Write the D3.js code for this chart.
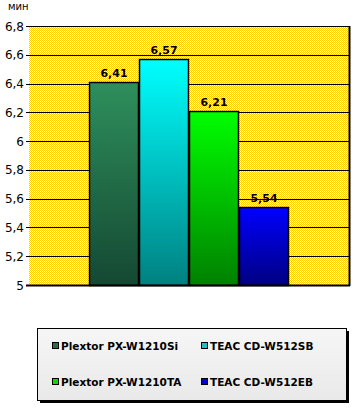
<!DOCTYPE html>
<html><head><meta charset="utf-8">
<script src="https://cdn.jsdelivr.net/npm/d3@7"></script>
<style>body{margin:0;background:#fff}svg{display:block}</style>
</head><body><svg id="c" width="353" height="408"></svg>
<script>
const categories = ["Plextor PX-W1210Si","TEAC CD-W512SB","Plextor PX-W1210TA","TEAC CD-W512EB"];
const values = [6.41, 6.57, 6.21, 5.54];
const labels = ["6,41","6,57","6,21","5,54"];
const yTicks = [5,5.2,5.4,5.6,5.8,6,6.2,6.4,6.6,6.8];
const yTickLabels = ["5","5,2","5,4","5,6","5,8","6","6,2","6,4","6,6","6,8"];
const topColors = ["#2e8f5c","#00ffff","#00ff00","#0000ff"];
const bottomColors = ["#144832","#008080","#008000","#000080"];
const swatchColors = ["#2e6b4c","#20c0c0","#00e000","#0000d0"];
const unit = "мин";

const svg = d3.select("#c");
const defs = svg.append("defs");
const pat = defs.append("pattern").attr("id","chk").attr("width",2).attr("height",2).attr("patternUnits","userSpaceOnUse");
pat.append("rect").attr("width",2).attr("height",2).attr("fill","#fff").attr("shape-rendering","crispEdges");
pat.append("rect").attr("x",0).attr("y",0).attr("width",1).attr("height",1).attr("fill","#ffcc00").attr("shape-rendering","crispEdges");
pat.append("rect").attr("x",1).attr("y",1).attr("width",1).attr("height",1).attr("fill","#ffcc00").attr("shape-rendering","crispEdges");
categories.forEach((c,i)=>{
  const g = defs.append("linearGradient").attr("id","g"+i).attr("x1",0).attr("y1",0).attr("x2",0).attr("y2",1);
  g.append("stop").attr("offset","0%").attr("stop-color",topColors[i]);
  g.append("stop").attr("offset","100%").attr("stop-color",bottomColors[i]);
});
const lg = defs.append("linearGradient").attr("id","lg").attr("x1",0).attr("y1",0).attr("x2",0).attr("y2",1);
lg.append("stop").attr("offset","0%").attr("stop-color","#f6f6f6");
lg.append("stop").attr("offset","100%").attr("stop-color","#e9e9e9");

const L=29, R=349, T=26, B=285;
const y = d3.scaleLinear().domain([5,6.8]).range([B,T]);
const x = d3.scaleBand().domain(categories).range([L+60,R-60]).padding(0);

svg.append("rect").attr("x",L).attr("y",T).attr("width",R-L).attr("height",B-T).attr("fill","url(#chk)").attr("shape-rendering","crispEdges");

svg.append("g").selectAll("line").data(yTicks).join("line")
  .attr("x1",L-3).attr("x2",R).attr("y1",d=>Math.round(y(d))+0.5).attr("y2",d=>Math.round(y(d))+0.5)
  .attr("stroke","#000").attr("stroke-width",1);
svg.append("line").attr("x1",R+0.5).attr("x2",R+0.5).attr("y1",T).attr("y2",B+1).attr("stroke","#000").attr("stroke-width",2);

svg.append("g").selectAll("text").data(yTicks).join("text")
  .attr("x",24).attr("y",d=>y(d)+4.5).attr("text-anchor","end")
  .attr("font-family","DejaVu Sans").attr("font-size",12).attr("fill","#000")
  .text((d,i)=>yTickLabels[i]);
svg.append("text").attr("x",8).attr("y",10).attr("font-family","DejaVu Sans").attr("font-size",10).text(unit);

svg.append("g").selectAll("rect").data(values).join("rect")
  .attr("x",(d,i)=>x(categories[i])+0.5).attr("y",d=>Math.round(y(d))+0.5)
  .attr("width",x.bandwidth()-1).attr("height",d=>B-Math.round(y(d)))
  .attr("fill",(d,i)=>"url(#g"+i+")").attr("stroke","#000").attr("stroke-width",1.5);
svg.append("line").attr("x1",L-3).attr("x2",R+1).attr("y1",B+0.5).attr("y2",B+0.5).attr("stroke","#000").attr("stroke-width",2);

svg.append("g").selectAll("text").data(values).join("text")
  .attr("x",(d,i)=>x(categories[i])+x.bandwidth()/2).attr("y",d=>y(d)-5)
  .attr("text-anchor","middle").attr("font-family","DejaVu Sans").attr("font-weight","bold").attr("font-size",11)
  .text((d,i)=>labels[i]);

const LX=37, LY=328, LW=309, LH=72;
svg.append("rect").attr("x",LX+3).attr("y",LY+3).attr("width",LW).attr("height",LH).attr("fill","#000");
svg.append("rect").attr("x",LX+0.5).attr("y",LY+0.5).attr("width",LW).attr("height",LH).attr("fill","url(#lg)").attr("stroke","#000");
const pos = [[52,346],[201,346],[52,382],[201,382]];
const lgG = svg.append("g").selectAll("g").data(categories).join("g")
  .attr("transform",(d,i)=>`translate(${pos[i][0]},${pos[i][1]})`);
lgG.append("rect").attr("x",0.5).attr("y",-3.5).attr("width",6).attr("height",6)
  .attr("fill",(d,i)=>swatchColors[i]).attr("stroke","#000");
lgG.append("text").attr("x",9).attr("y",4).attr("font-family","DejaVu Sans").attr("font-weight","bold").attr("font-size",10.5)
  .text(d=>d);
</script></body></html>
